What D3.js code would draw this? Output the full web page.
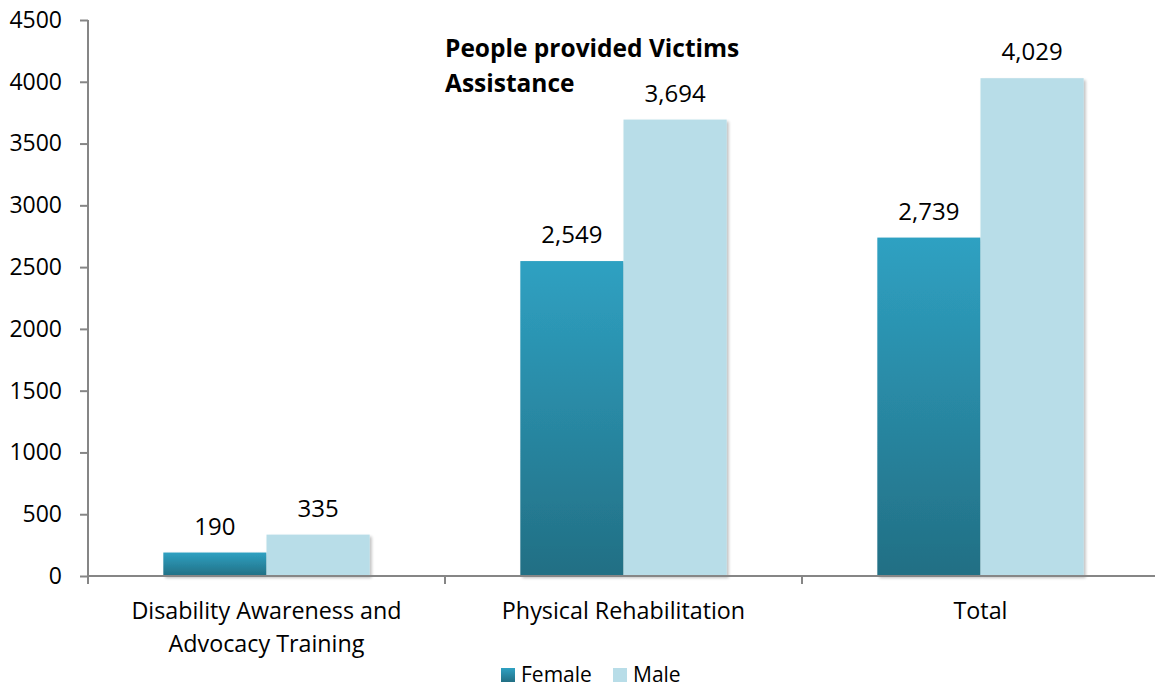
<!DOCTYPE html>
<html><head><meta charset="utf-8">
<script src="https://cdn.jsdelivr.net/npm/d3@7"></script>
<style>body{margin:0;background:#fff}svg{display:block}text{font-family:"Open Sans",sans-serif}</style>
</head><body>
<svg id="c" width="1155" height="689"></svg>
<script>
const categories = [["Disability Awareness and","Advocacy Training"],["Physical Rehabilitation"],["Total"]];
const catKeys = ["Disability Awareness and Advocacy Training","Physical Rehabilitation","Total"];
const series = ["Female","Male"];
const female = [190, 2549, 2739];
const male = [335, 3694, 4029];
const yTicks = [0,500,1000,1500,2000,2500,3000,3500,4000,4500];
const title = ["People provided Victims","Assistance"];

const svg = d3.select("#c");
const pL=88, pR=1159, pT=20, pB=576;
const x = d3.scaleBand().domain(catKeys).range([pL,pR]).paddingInner(0).paddingOuter(0);
const x1 = d3.scaleBand().domain(series).range([0,x.bandwidth()]).paddingInner(0).paddingOuter(0.73);
const y = d3.scaleLinear().domain([0,4500]).range([pB,pT]);
const fmt = d3.format(",");
const data = catKeys.map((c,i)=>({c, vals:[{s:"Female",v:female[i]},{s:"Male",v:male[i]}]}));

const defs = svg.append("defs");
const g1 = defs.append("linearGradient").attr("id","fg").attr("x1",0).attr("y1",0).attr("x2",0).attr("y2",1);
g1.append("stop").attr("offset","0%").attr("stop-color","#2fa1c2");
g1.append("stop").attr("offset","100%").attr("stop-color","#226f84");
const f = defs.append("filter").attr("id","sh").attr("x","-10%").attr("y","-10%").attr("width","130%").attr("height","130%");
f.append("feGaussianBlur").attr("in","SourceAlpha").attr("stdDeviation",1.5);
f.append("feOffset").attr("dx",1.5).attr("dy",1.5).attr("result","b");
f.append("feComponentTransfer").append("feFuncA").attr("type","linear").attr("slope",0.25);
const m = f.append("feMerge"); m.append("feMergeNode"); m.append("feMergeNode").attr("in","SourceGraphic");

const color = {Female:"url(#fg)", Male:"#b8dde8"};

// bars
const grp = svg.append("g").selectAll("g").data(data).join("g").attr("transform",d=>`translate(${x(d.c)},0)`);
grp.selectAll("rect").data(d=>d.vals).join("rect")
  .attr("x",d=>x1(d.s)).attr("width",x1.bandwidth())
  .attr("y",d=>y(d.v)).attr("height",d=>y(0)-y(d.v))
  .attr("fill",d=>color[d.s]).attr("filter","url(#sh)");
grp.selectAll("text").data(d=>d.vals).join("text")
  .attr("x",d=>x1(d.s)+x1.bandwidth()/2).attr("y",d=>y(d.v)-18)
  .attr("text-anchor","middle").attr("font-size",24).attr("fill","#000").text(d=>fmt(d.v));

// y axis
const yAxis = d3.axisLeft(y).tickValues(yTicks).tickFormat(d3.format("d")).tickSize(8).tickSizeOuter(0).tickPadding(18);
const ya = svg.append("g").attr("transform",`translate(${pL},0)`).call(yAxis);
ya.select(".domain").attr("stroke","#868686").attr("stroke-width",2).attr("d",`M0,${pT}V${pB+8}`);
ya.selectAll(".tick line").attr("stroke","#868686").attr("stroke-width",2);
ya.selectAll(".tick text").attr("font-size",23).attr("fill","#000").attr("font-family","'Open Sans',sans-serif");

// x axis
svg.append("line").attr("x1",pL).attr("x2",pR).attr("y1",pB).attr("y2",pB).attr("stroke","#868686").attr("stroke-width",2);
svg.append("g").selectAll("line").data(catKeys.slice(1)).join("line")
  .attr("x1",d=>x(d)).attr("x2",d=>x(d)).attr("y1",pB).attr("y2",pB+8).attr("stroke","#868686").attr("stroke-width",2);

// category labels
svg.append("g").selectAll("text").data(catKeys).join("text")
  .attr("x",d=>x(d)+x.bandwidth()/2).attr("y",619).attr("text-anchor","middle").attr("font-size",23.3).attr("fill","#000")
  .each(function(d,i){
    const t=d3.select(this);
    categories[i].forEach((ln,j)=>t.append("tspan").attr("x",x(d)+x.bandwidth()/2).attr("dy",j?33:0).text(ln));
  });

// title
const tt = svg.append("text").attr("x",445).attr("y",57).attr("font-size",24.5).attr("font-weight","bold").attr("fill","#000");
title.forEach((ln,j)=>tt.append("tspan").attr("x",445).attr("dy",j?35:0).text(ln));

// legend
const lg = svg.append("g");
const lx=[501,613];
series.forEach((s,i)=>{
  lg.append("rect").attr("x",lx[i]).attr("y",668).attr("width",14).attr("height",14).attr("fill",color[s]);
  lg.append("text").attr("x",lx[i]+20).attr("y",682).attr("font-size",21).attr("fill","#000").text(s);
});
</script>
</body></html>
